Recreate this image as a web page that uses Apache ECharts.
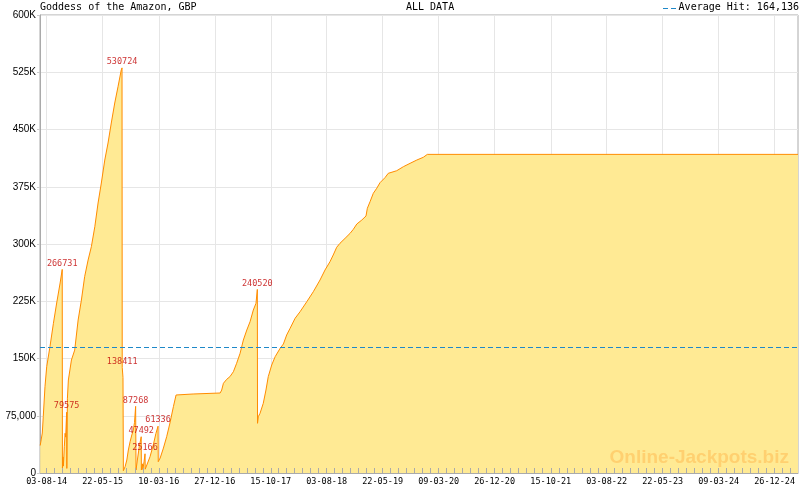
<!DOCTYPE html>
<html><head><meta charset="utf-8">
<script src="https://cdn.jsdelivr.net/npm/echarts@6/dist/echarts.min.js"></script>
<style>html,body{margin:0;padding:0;background:#fff}#c{width:800px;height:490px}</style>
</head><body><div id="c"></div>
<script>
const chartTitle = 'Goddess of the Amazon, GBP';
const rangeTitle = 'ALL DATA';
const averageHit = 164136;
const watermark = 'Online-Jackpots.biz';
const originDate = Date.UTC(2014, 7, 3);   // 03-08-14
const axisStartDay = -35;
const axisEndDay = 3920;

// days since 03-08-14
const dayOffsets = [-34,-23,-18,-9,0,17,35,52,70,81,82,85,87,92,96,99,104,105,108,113,129,146,164,181,198,216,233,251,268,285,303,320,337,355,372,389,393,394,398,400,409,418,426,435,444,452,458,464,466,473,483,493,494,499,502,508,513,514,522,539,556,570,581,582,592,609,626,643,661,675,764,765,905,913,922,939,956,974,991,1009,1026,1044,1061,1078,1092,1099,1100,1104,1113,1130,1144,1156,1174,1192,1218,1235,1252,1270,1296,1322,1357,1391,1426,1452,1478,1495,1513,1530,1557,1583,1600,1618,1644,1666,1673,1687,1704,1722,1739,1765,1782,1826,1861,1896,1931,1965,1986,3920];
const jackpotValues = [36000,52400,73800,113000,139300,165500,196100,222700,248900,266731,6500,21000,9000,35000,52000,47000,79575,6000,98000,121800,148000,161000,200400,226600,257200,279000,296500,322700,353700,379900,410000,432300,458500,484700,506000,528000,530724,138411,125000,3000,8300,17000,30100,41000,49800,56300,66000,87268,3900,17000,34500,47492,4000,12000,4500,15000,25166,5000,6100,21300,36700,52000,61336,14800,19600,32700,47600,65500,86900,102200,103500,104800,104800,108700,117500,122700,126200,132700,143700,156800,174200,187300,198200,213500,222300,240520,65100,73700,78200,91300,108700,126200,141500,152400,163400,169000,180800,189600,202700,211300,224400,237500,252800,265900,276800,285600,295700,300900,307500,314000,319300,326200,331400,336700,346800,355400,366400,373000,380300,386900,392600,396000,401300,405700,410000,413600,417400,417400];
const peakValues = [266731, 79575, 530724, 138411, 87268, 47492, 25166, 61336, 240520];
const xTickLabels = ['03-08-14','22-05-15','10-03-16','27-12-16','15-10-17','03-08-18','22-05-19','09-03-20','26-12-20','15-10-21','03-08-22','22-05-23','09-03-24','26-12-24'];
const yMin = 0, yMax = 600000, yStep = 75000;

const DAY = 86400000;
const toMs = d => originDate + d * DAY;
const parseLabel = s => { const p = s.split('-').map(Number); return Date.UTC(2000 + p[2], p[1] - 1, p[0]); };
const pad = n => (n < 10 ? '0' : '') + n;
const fmtDate = v => { const d = new Date(v); return pad(d.getUTCDate()) + '-' + pad(d.getUTCMonth() + 1) + '-' + pad(d.getUTCFullYear() % 100); };

const xMin = toMs(axisStartDay), xMax = toMs(axisEndDay);
const majorMs = xTickLabels.map(parseLabel);
const minorMs = [];
for (let i = 0; i < majorMs.length - 1; i++) {
  const st = (majorMs[i + 1] - majorMs[i]) / 7;
  for (let k = 0; k < 7; k++) minorMs.push(majorMs[i] + k * st);
}
{
  const st = (majorMs[majorMs.length - 1] - majorMs[majorMs.length - 2]) / 7;
  for (let v = majorMs[majorMs.length - 1]; v < xMax; v += st) minorMs.push(v);
}

const lineData = dayOffsets.map((d, i) => [toMs(d), jackpotValues[i]]);
const peakData = lineData.filter(p => peakValues.includes(p[1]));

const mono = 'DejaVu Sans Mono';
const chart = echarts.init(document.getElementById('c'));
chart.setOption({
  animation: false,
  backgroundColor: '#fff',
  grid: { left: 40, right: 2, top: 15, bottom: 17, show: true, borderColor: '#aaa', borderWidth: 1, backgroundColor: 'transparent' },
  xAxis: [{
    type: 'value', min: xMin, max: xMax, position: 'bottom',
    axisLine: { show: true, lineStyle: { color: '#aaa' } },
    axisTick: { show: false, customValues: majorMs },
    axisLabel: { customValues: majorMs, formatter: fmtDate, fontFamily: mono, fontSize: 8.5, color: '#000', margin: 4 },
    splitLine: { show: true, lineStyle: { color: '#e6e6e6' } }
  }, {
    type: 'value', min: xMin, max: xMax, position: 'bottom', z: 10,
    axisLine: { show: false },
    axisLabel: { show: false },
    splitLine: { show: false },
    axisTick: { show: true, inside: true, length: 5, customValues: minorMs, lineStyle: { color: '#aaa', width: 1 } }
  }],
  yAxis: {
    type: 'value', min: yMin, max: yMax, interval: yStep,
    axisLine: { show: true, lineStyle: { color: '#aaa' } },
    axisTick: { show: true, length: 3, lineStyle: { color: '#ccc' } },
    axisLabel: {
      fontFamily: 'Liberation Sans', fontSize: 10, color: '#000', margin: 4,
      formatter: v => v === 0 ? '0' : (v < 100000 ? v.toLocaleString('en-US') : (v / 1000) + 'K')
    },
    splitLine: { show: true, lineStyle: { color: '#e6e6e6' } }
  },
  series: [{
    type: 'line', xAxisIndex: 0, data: lineData, symbol: 'none',
    lineStyle: { color: '#FF8C00', width: 1 },
    areaStyle: { color: '#FFEA94', opacity: 1 },
    markLine: {
      silent: true, symbol: 'none', label: { show: false },
      lineStyle: { color: '#1E88C8', type: [5, 3], width: 1, opacity: 1 },
      data: [{ yAxis: averageHit }]
    },
    z: 2
  }, {
    type: 'scatter', xAxisIndex: 0, data: peakData, symbolSize: 1,
    itemStyle: { color: 'rgba(0,0,0,0)' },
    label: { show: true, position: 'top', distance: 1, color: '#C00000', fontFamily: mono, fontSize: 8.5, formatter: p => String(p.value[1]) },
    z: 5
  }],
  graphic: [
    { type: 'text', x: 40, y: 7.5, z: 100, style: { text: chartTitle, font: '10px "DejaVu Sans Mono"', fill: '#000', textAlign: 'left', textVerticalAlign: 'middle' } },
    { type: 'text', x: 406, y: 7.5, z: 100, style: { text: rangeTitle, font: '10px "DejaVu Sans Mono"', fill: '#000', textAlign: 'left', textVerticalAlign: 'middle' } },
    { type: 'text', x: 799, y: 7.5, z: 100, style: { text: 'Average Hit: ' + averageHit.toLocaleString('en-US'), font: '10px "DejaVu Sans Mono"', fill: '#000', textAlign: 'right', textVerticalAlign: 'middle' } },
    { type: 'line', z: 100, shape: { x1: 663, y1: 8.5, x2: 677, y2: 8.5 }, style: { stroke: '#1E88C8', lineWidth: 1, lineDash: [5, 3] } },
    { type: 'text', x: 789, y: 458, z: 100, style: { text: watermark, font: 'bold 19px "Liberation Sans"', fill: '#FFD070', textAlign: 'right', textVerticalAlign: 'middle' } }
  ]
});
</script></body></html>
